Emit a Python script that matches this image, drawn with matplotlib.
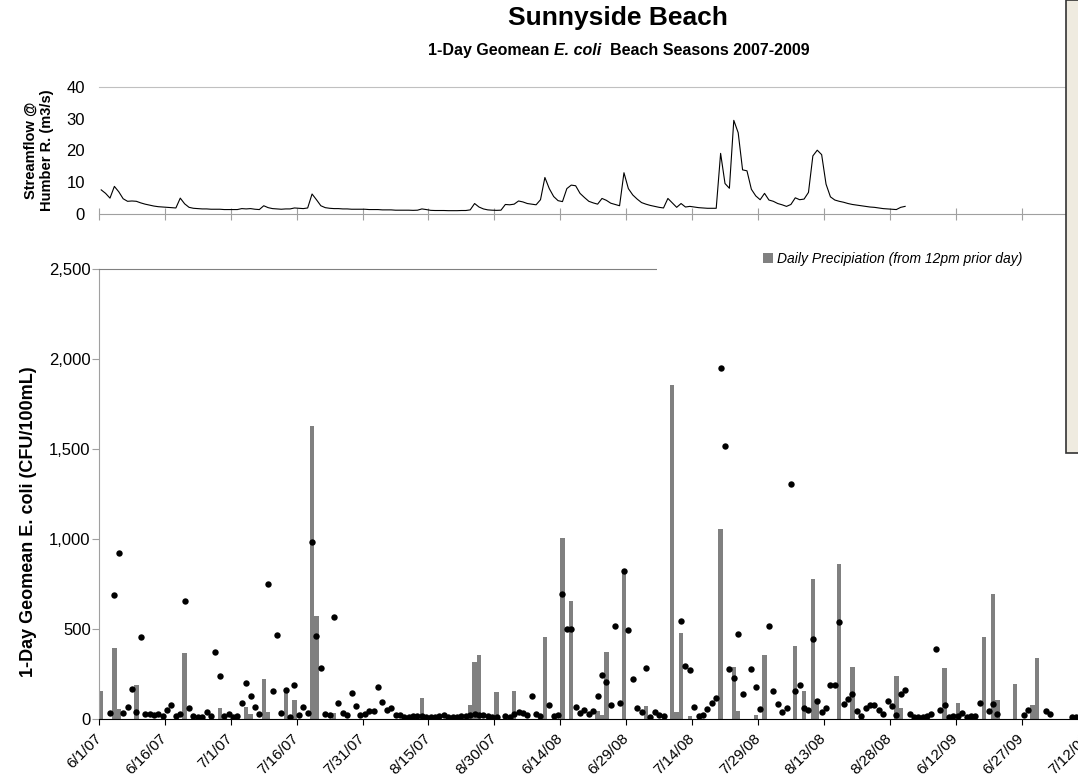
import matplotlib
matplotlib.use("Agg")
from matplotlib import pyplot as plt
from matplotlib.patches import Rectangle
import numpy as np
import pandas as pd

plt.rcParams["font.family"] = ["Liberation Sans", "DejaVu Sans"]

# beach season days on the category axis
season_2007 = pd.date_range("2007-06-01", "2007-08-31")
season_2008 = pd.date_range("2008-06-01", "2008-08-31")
season_2009 = pd.date_range("2009-06-01", "2009-07-20")

# 1-day geomean E. coli (CFU/100mL), None = not sampled
ecoli_2007 = [None, None, 33, 690, 926, 33, 70, 170, 42, 455,
              27, 27, 24, 27, 18, 50, 81, 18, 31, 659,
              61, 20, 14, 14, 42, 18, 372, 240, 18, 29,
              14, 18, 89, 201, 131, 66, 31, None, 750, 157,
              470, 37, 164, 14, 188, 22, 66, 35, 987, 463,
              287, 27, 24, 566, 89, 35, 26, 144, 76, 22,
              31, 46, 44, 181, 98, 51, 61, 22, 26, 15,
              14, 16, 20, 16, 14, 15, 14, 18, 22, 15,
              14, 14, 16, 18, 22, 28, 26, 24, 18, 15,
              14, None]
ecoli_2008 = [18, 14, 29, 39, 35, 26, 129, 27, 20, None,
              77, 18, 26, 696, 502, 502, 70, 35, 51, 31,
              44, 129, 248, 205, 77, 516, 92, 822, 496, 222,
              61, 39, 285, 14, 42, 24, 18, None, None, None,
              544, 298, 274, 66, 20, 24, 57, 92, 120, 1953,
              1518, 277, 227, 476, 140, None, 277, 179, 55, None,
              516, 157, 83, 39, 61, 1307, 157, 189, 61, 51,
              448, 103, 40, 61, 189, 189, 540, 85, 113, 139,
              46, 18, 64, 79, 79, 51, 27, 103, 74, 24,
              140, 163]
ecoli_2009 = [27, 14, 14, 14, 18, 27, 390, 51, 81, 14,
              18, 18, 33, 14, 18, 18, 90, None, 48, 87,
              29, None, None, None, None, None, 22, 51, None, None,
              None, 46, 31, None, None, None, None, 14, 14]

# daily precipitation (mm, from 12pm prior day)
precip_2007 = [3.1, 0, 0, 7.9, 1.2, 0, 0, 0, 3.8, 0,
               0, 0, 0, 0, 0, 0, 0, 0, 0, 7.4,
               0, 0, 0, 0, 0, 0, 0, 1.3, 0, 0,
               0, 0, 0, 1.4, 0.6, 0, 0, 4.5, 0.8, 0,
               0, 0, 3.3, 0, 2.1, 0, 0, 0, 32.6, 11.5,
               0, 0, 0, 0.7, 0, 0, 0, 0, 0, 0,
               0, 0, 0, 0, 0, 0, 0, 0, 0, 0,
               0, 0, 0, 2.4, 0, 0, 0, 0, 0, 0,
               0, 0, 0, 0, 1.6, 6.4, 7.1, 0, 0, 0,
               3.0, 0]
precip_2008 = [0, 0, 3.1, 0, 0, 0, 0, 0, 0, 9.1,
               0, 0, 0, 20.2, 0, 13.1, 0, 0, 0, 0,
               0, 0.9, 0.5, 7.5, 0, 0, 0, 16.4, 0, 0,
               0, 0, 1.5, 0, 0, 0, 0, 0, 37.1, 0.8,
               9.6, 0, 0.4, 0, 0, 0, 0, 0, 0, 21.1,
               0, 0, 5.8, 0.9, 0, 0, 0, 0.5, 0, 7.1,
               0, 0, 0, 0, 0, 0, 8.1, 0, 3.1, 0,
               15.6, 1.8, 0, 0, 0, 0, 17.3, 0, 0, 5.8,
               0, 0, 0, 0, 0, 0, 0, 0, 0, 4.8,
               1.3, 0]
precip_2009 = [0, 0, 0, 0, 0, 0, 0, 0, 5.7, 0,
               0, 1.8, 0, 0, 0, 0, 0, 9.1, 0, 13.9,
               2.1, 0, 0, 0, 3.9, 0, 0, 0, 1.6, 6.8,
               0, 0, 0, 0, 0, 0, 0, 0, 0]

# Humber River streamflow (m3/s)
flow_2007 = [7.6, 6.5, 5.0, 8.7, 7.0, 4.8, 4.0, 4.1, 4.0, 3.5,
             3.1, 2.8, 2.5, 2.3, 2.2, 2.1, 2.0, 1.9, 5.0, 3.2,
             2.1, 1.8, 1.7, 1.6, 1.6, 1.5, 1.5, 1.5, 1.4, 1.4,
             1.4, 1.4, 1.7, 1.6, 1.7, 1.5, 1.4, 2.6, 2.0, 1.7,
             1.6, 1.5, 1.6, 1.6, 1.9, 1.8, 1.7, 1.9, 6.3, 4.5,
             2.6, 2.0, 1.8, 1.7, 1.7, 1.6, 1.6, 1.5, 1.5, 1.5,
             1.5, 1.4, 1.4, 1.4, 1.3, 1.3, 1.3, 1.2, 1.2, 1.2,
             1.2, 1.15, 1.2, 1.6, 1.4, 1.15, 1.1, 1.1, 1.1, 1.05,
             1.05, 1.05, 1.1, 1.1, 1.3, 3.3, 2.2, 1.6, 1.3, 1.2,
             1.15, 1.2]
flow_2008 = [3.0, 2.9, 3.1, 4.1, 3.8, 3.3, 3.1, 2.9, 4.5, 11.5,
             8.0, 5.5, 4.2, 3.9, 8.0, 9.1, 8.9, 6.5, 5.2, 4.0,
             3.5, 3.1, 4.9, 4.3, 3.4, 3.0, 2.6, 13.0, 8.0, 6.0,
             4.7, 3.6, 3.1, 2.7, 2.4, 2.1, 1.9, 4.9, 3.5, 2.1,
             3.3, 2.2, 2.4, 2.2, 2.0, 1.9, 1.8, 1.8, 1.8, 19.1,
             9.6, 8.1, 29.5, 25.6, 13.9, 13.6, 7.8, 5.7, 4.5, 6.5,
             4.4, 4.0, 3.3, 2.9, 2.4, 3.0, 5.1, 4.5, 4.7, 6.8,
             18.3, 20.1, 18.7, 9.4, 5.4, 4.4, 4.0, 3.7, 3.3, 3.0,
             2.8, 2.6, 2.4, 2.2, 2.1, 1.9, 1.7, 1.6, 1.5, 1.4,
             2.1, 2.4]


def pad(values, n, fill):
    return list(values) + [fill] * (n - len(values))


dates = list(season_2007) + list(season_2008) + list(season_2009)
n_days = len(dates)
x = np.arange(n_days) + 0.5

ecoli = np.array(pad(ecoli_2007 + ecoli_2008 + ecoli_2009, n_days, None), dtype=float)
precip = np.array(pad(precip_2007 + precip_2008 + precip_2009, n_days, 0.0), dtype=float)
flow = np.array(flow_2007 + flow_2008, dtype=float)

tick_pos = np.arange(0, n_days, 15)
tick_labels = [f"{dates[i].month}/{dates[i].day}/{dates[i]:%y}" for i in tick_pos]

W, H = 1078, 781
fig = plt.figure(figsize=(W / 100, H / 100), dpi=100)
px_per_day = 4.393
x_max = 235
ax_px = x_max * px_per_day
ax_w = ax_px / W
left = 99 / W

axis_gray = "#a0a0a0"

# streamflow panel
ax_top = fig.add_axes([left, (H - 214) / H, ax_w, 127 / H])
ax_top.plot(x[:len(flow)], flow, color="black", lw=0.8)
ax_top.set_xlim(0, x_max)
ax_top.set_ylim(0, 40)
ax_top.set_yticks([0, 10, 20, 30, 40])
ax_top.set_xticks(tick_pos)
ax_top.set_xticklabels([])
for s in ["left", "right"]:
    ax_top.spines[s].set_visible(False)
ax_top.spines["top"].set_color("#c0c0c0")
ax_top.spines["bottom"].set_color(axis_gray)
ax_top.tick_params(axis="x", direction="inout", length=8, color=axis_gray)
ax_top.tick_params(axis="y", length=0, labelsize=12, pad=10)
ax_top.set_ylabel("Streamflow @\nHumber R. (m3/s)", fontsize=10.5, fontweight="bold", labelpad=9)

# E. coli and precipitation panel
ax = fig.add_axes([left, (H - 719.3) / H, ax_w, 450 / H])
ax2 = ax.twinx()
bars = ax2.bar(x, precip, width=1.0, color="#808080", label="Daily Precipiation (from 12pm prior day)")
ax2.set_ylim(0, 50)
ax2.set_yticks([])
for s in ax2.spines.values():
    s.set_visible(False)
ax.set_zorder(ax2.get_zorder() + 1)
ax.patch.set_visible(False)

ax.plot(x, ecoli, "o", color="black", ms=4.6, mew=0)
ax.set_xlim(0, x_max)
ax.set_ylim(0, 2500)
ax.set_yticks(np.arange(0, 2501, 500))
ax.set_yticklabels([f"{v:,}" for v in range(0, 2501, 500)])
ax.set_xticks(tick_pos)
ax.set_xticklabels(tick_labels, rotation=45, ha="right", va="center", rotation_mode="anchor")
ax.spines["right"].set_visible(False)
ax.spines["left"].set_color(axis_gray)
ax.spines["top"].set_color("#808080")
ax.spines["bottom"].set_color("black")
ax.tick_params(axis="y", direction="out", length=5, color=axis_gray, labelsize=12, pad=1)
ax.tick_params(axis="x", direction="out", length=4, labelsize=11, pad=8)
ax.set_ylabel("1-Day Geomean E. coli (CFU/100mL)", fontsize=13, fontweight="bold")
ax.yaxis.set_label_coords((37 - 99) / ax_px, (719.3 - 522) / 450)

# legend box sits over the top edge of the lower panel
fig.patches.append(Rectangle((657 / W, (H - 276) / H), (1066 - 657) / W, 24 / H,
                             transform=fig.transFigure, facecolor="white", edgecolor="none", zorder=5))
leg = fig.legend(handles=[bars], labels=[bars.get_label()], loc="center right",
                 bbox_to_anchor=(1032 / W, 1 - 259 / H), frameon=False,
                 prop={"style": "italic", "size": 10}, handlelength=0.7, handleheight=0.7,
                 handletextpad=0.3, borderpad=0.2)
leg.set_zorder(6)

# titles
fig.text(618 / W, 1 - 6 / H, "Sunnyside Beach", ha="center", va="top", fontsize=19, fontweight="bold")
sub1 = fig.text(428 / W, 1 - 43 / H, "1-Day Geomean ", ha="left", va="top", fontsize=11.5, fontweight="bold")
sub2 = ax.annotate("E. coli", xy=(1, 0), xycoords=sub1, va="bottom", ha="left",
                   fontsize=11.5, fontweight="bold", style="italic")
ax.annotate("  Beach Seasons 2007-2009", xy=(1, 0), xycoords=sub2, va="bottom", ha="left",
            fontsize=11.5, fontweight="bold")

# text box clipped at the right edge
fig.patches.append(Rectangle((1066 / W, (H - 453) / H), 20 / W, 453 / H, transform=fig.transFigure,
                             facecolor="#efebe0", edgecolor="#333333", lw=1.2, zorder=10))

fig.savefig("out.png", dpi=100)
